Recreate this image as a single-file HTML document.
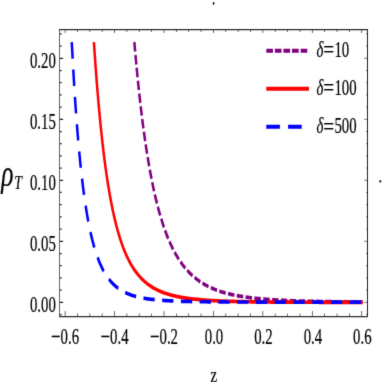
<!DOCTYPE html>
<html><head><meta charset="utf-8"><title>plot</title>
<style>
html,body{margin:0;padding:0;background:#fff;}
body{width:382px;height:382px;overflow:hidden;}
svg{display:block;}
text{font-family:"Liberation Serif",serif;font-size:14.8px;fill:#000;stroke:#000;stroke-width:0.15px;}
</style></head>
<body>
<svg width="382" height="382" viewBox="0 0 382 382">
<defs><filter id="sf" x="-5%" y="-5%" width="110%" height="110%" color-interpolation-filters="sRGB"><feConvolveMatrix order="3" kernelMatrix="0.0113 0.0838 0.0113 0.0838 0.6193 0.0838 0.0113 0.0838 0.0113" edgeMode="duplicate" preserveAlpha="true"/></filter></defs>
<g filter="url(#sf)">
<rect x="-5" y="-5" width="392" height="392" fill="#ffffff"/>
<g transform="scale(1,1.465)">
<path d="M134.35,28.74 L134.50,29.91 L134.70,31.48 L134.89,33.04 L135.09,34.58 L135.29,36.11 L135.48,37.62 L135.68,39.12 L135.88,40.60 L136.07,42.07 L136.27,43.52 L136.47,44.96 L136.66,46.38 L136.86,47.79 L137.06,49.19 L137.25,50.57 L137.45,51.94 L137.65,53.29 L137.85,54.63 L138.04,55.96 L138.24,57.28 L138.44,58.58 L138.63,59.87 L138.83,61.14 L139.03,62.40 L139.22,63.66 L139.42,64.89 L139.62,66.12 L139.81,67.34 L140.01,68.54 L140.21,69.73 L140.40,70.91 L140.60,72.08 L140.80,73.23 L140.99,74.38 L141.19,75.51 L141.39,76.64 L141.59,77.75 L141.78,78.85 L141.98,79.94 L142.18,81.02 L142.37,82.09 L142.57,83.15 L142.77,84.20 L142.96,85.24 L143.16,86.27 L143.36,87.29 L143.55,88.30 L143.75,89.30 L143.95,90.29 L144.14,91.27 L144.34,92.24 L144.54,93.20 L144.73,94.16 L144.93,95.10 L145.13,96.04 L145.33,96.96 L145.52,97.88 L145.72,98.79 L145.92,99.69 L146.11,100.58 L146.31,101.46 L146.51,102.34 L146.70,103.21 L146.90,104.06 L147.10,104.91 L147.29,105.76 L147.49,106.59 L147.69,107.42 L147.88,108.24 L148.08,109.05 L148.28,109.85 L148.47,110.65 L148.67,111.44 L148.87,112.22 L149.16,113.38 L149.46,114.52 L149.75,115.65 L150.05,116.76 L150.35,117.86 L150.64,118.94 L150.94,120.00 L151.23,121.05 L151.53,122.09 L151.82,123.11 L152.12,124.12 L152.41,125.12 L152.71,126.10 L153.00,127.07 L153.30,128.02 L153.59,128.96 L153.89,129.89 L154.18,130.81 L154.48,131.71 L154.77,132.60 L155.07,133.48 L155.36,134.35 L155.66,135.21 L155.96,136.05 L156.25,136.88 L156.55,137.71 L156.84,138.52 L157.14,139.32 L157.43,140.11 L157.73,140.89 L158.02,141.66 L158.32,142.42 L158.61,143.16 L159.01,144.15 L159.40,145.11 L159.79,146.06 L160.19,146.99 L160.58,147.91 L160.97,148.81 L161.37,149.70 L161.76,150.56 L162.16,151.42 L162.55,152.26 L162.94,153.08 L163.34,153.89 L163.73,154.69 L164.12,155.47 L164.52,156.24 L164.91,157.00 L165.31,157.74 L165.70,158.47 L166.09,159.19 L166.49,159.90 L166.98,160.77 L167.47,161.61 L167.96,162.45 L168.45,163.26 L168.95,164.05 L169.44,164.83 L169.93,165.60 L170.42,166.34 L170.92,167.08 L171.41,167.79 L171.90,168.50 L172.39,169.18 L172.88,169.86 L173.38,170.52 L173.87,171.16 L174.36,171.80 L174.95,172.54 L175.54,173.27 L176.13,173.97 L176.72,174.66 L177.31,175.34 L177.90,176.00 L178.49,176.64 L179.08,177.27 L179.67,177.88 L180.27,178.47 L180.86,179.06 L181.45,179.63 L182.04,180.18 L182.63,180.73 L183.32,181.34 L184.01,181.95 L184.69,182.53 L185.38,183.10 L186.07,183.65 L186.76,184.19 L187.45,184.72 L188.14,185.23 L188.83,185.72 L189.52,186.21 L190.21,186.68 L190.89,187.14 L191.58,187.58 L192.27,188.02 L192.96,188.44 L193.65,188.86 L194.44,189.31 L195.23,189.76 L196.01,190.19 L196.80,190.61 L197.59,191.02 L198.38,191.41 L199.16,191.80 L199.95,192.17 L200.74,192.53 L201.52,192.88 L202.31,193.22 L203.10,193.56 L203.89,193.88 L204.67,194.19 L205.46,194.50 L206.25,194.79 L207.04,195.08 L207.82,195.36 L208.61,195.63 L209.40,195.89 L210.19,196.15 L210.97,196.40 L211.76,196.64 L212.55,196.88 L213.34,197.11 L214.12,197.33 L214.91,197.55 L215.70,197.76 L216.48,197.97 L217.27,198.17 L218.06,198.36 L218.85,198.55 L219.63,198.74 L220.42,198.92 L221.21,199.09 L222.00,199.26 L222.78,199.43 L223.57,199.59 L224.36,199.75 L225.15,199.90 L225.93,200.05 L226.72,200.20 L227.51,200.34 L228.39,200.49 L229.28,200.64 L230.17,200.79 L231.05,200.93 L231.94,201.07 L232.82,201.20 L233.71,201.33 L234.59,201.46 L235.48,201.58 L236.37,201.70 L237.25,201.82 L238.14,201.93 L239.02,202.04 L239.91,202.15 L240.79,202.25 L241.68,202.35 L242.57,202.45 L243.45,202.55 L244.34,202.64 L245.22,202.73 L246.11,202.82 L247.00,202.90 L247.88,202.99 L248.77,203.07 L249.65,203.15 L250.54,203.22 L251.42,203.30 L252.31,203.37 L253.20,203.44 L254.08,203.51 L254.97,203.58 L255.85,203.64 L256.74,203.71 L257.63,203.77 L258.51,203.83 L259.40,203.89 L260.28,203.94 L261.17,204.00 L262.05,204.05 L262.94,204.11 L263.83,204.16 L264.71,204.21 L265.60,204.26 L266.48,204.31 L267.37,204.35 L268.25,204.40 L269.14,204.44 L270.03,204.49 L270.91,204.53 L271.80,204.57 L272.68,204.61 L273.57,204.65 L274.46,204.69 L275.34,204.72 L276.23,204.76 L277.11,204.79 L278.00,204.83 L278.88,204.86 L279.77,204.89 L280.66,204.93 L281.54,204.96 L282.43,204.99 L283.31,205.02 L284.20,205.05 L285.08,205.08 L285.97,205.10 L286.86,205.13 L287.74,205.16 L288.63,205.18 L289.51,205.21 L290.40,205.23 L291.29,205.26 L292.17,205.28 L293.06,205.30 L293.94,205.32 L294.83,205.35 L295.71,205.37 L296.60,205.39 L297.49,205.41 L298.37,205.43 L299.26,205.45 L300.14,205.47 L301.03,205.49 L301.92,205.50 L302.80,205.52 L303.69,205.54 L304.57,205.56 L305.46,205.57 L306.34,205.59 L307.23,205.60 L308.12,205.62 L309.00,205.64 L309.89,205.65 L310.77,205.66 L311.66,205.68 L312.54,205.69 L313.43,205.71 L314.32,205.72 L315.20,205.73 L316.09,205.74 L316.97,205.76 L317.86,205.77 L318.75,205.78 L319.63,205.79 L320.52,205.80 L321.40,205.82 L322.29,205.83 L323.17,205.84 L324.06,205.85 L324.95,205.86 L325.83,205.87 L326.72,205.88 L327.60,205.89 L328.49,205.90 L329.37,205.91 L330.26,205.91 L331.15,205.92 L332.03,205.93 L332.92,205.94 L333.80,205.95 L334.69,205.96 L335.58,205.96 L336.46,205.97 L337.35,205.98 L338.23,205.99 L339.12,205.99 L340.00,206.00 L340.89,206.01 L341.78,206.02 L342.66,206.02 L343.55,206.03 L344.43,206.04 L345.32,206.04 L346.21,206.05 L347.09,206.05 L347.98,206.06 L348.86,206.07 L349.75,206.07 L350.63,206.08 L351.52,206.08 L352.41,206.09 L353.29,206.09 L354.18,206.10 L355.06,206.10 L355.95,206.11 L356.83,206.11 L357.72,206.12 L358.61,206.12 L359.49,206.13 L360.38,206.13 L361.26,206.14 L362.15,206.14 L362.74,206.14" fill="none" stroke="#800080" stroke-width="2.5" stroke-dasharray="6.5 2.35"/>
<path d="M93.92,28.74 L94.05,30.10 L94.15,31.12 L94.24,32.13 L94.34,33.14 L94.44,34.14 L94.54,35.14 L94.64,36.12 L94.74,37.10 L94.83,38.08 L94.93,39.05 L95.03,40.01 L95.13,40.97 L95.23,41.92 L95.33,42.86 L95.43,43.80 L95.52,44.73 L95.62,45.65 L95.72,46.57 L95.82,47.49 L95.92,48.39 L96.02,49.30 L96.11,50.19 L96.21,51.08 L96.31,51.97 L96.41,52.84 L96.51,53.72 L96.61,54.58 L96.70,55.45 L96.80,56.30 L96.90,57.15 L97.00,58.00 L97.10,58.84 L97.20,59.67 L97.30,60.50 L97.39,61.33 L97.49,62.14 L97.59,62.96 L97.69,63.77 L97.79,64.57 L97.89,65.37 L98.08,66.95 L98.28,68.51 L98.48,70.05 L98.67,71.57 L98.87,73.07 L99.07,74.56 L99.26,76.02 L99.46,77.47 L99.66,78.89 L99.85,80.30 L100.05,81.70 L100.25,83.07 L100.44,84.43 L100.64,85.77 L100.84,87.10 L101.04,88.40 L101.23,89.70 L101.43,90.97 L101.63,92.23 L101.82,93.48 L102.02,94.71 L102.22,95.92 L102.41,97.12 L102.61,98.30 L102.81,99.47 L103.00,100.63 L103.20,101.77 L103.40,102.90 L103.59,104.01 L103.79,105.11 L103.99,106.20 L104.19,107.27 L104.38,108.33 L104.58,109.38 L104.78,110.41 L104.97,111.44 L105.17,112.45 L105.37,113.45 L105.56,114.43 L105.76,115.41 L105.96,116.37 L106.15,117.32 L106.35,118.26 L106.55,119.19 L106.74,120.11 L106.94,121.01 L107.14,121.91 L107.33,122.79 L107.53,123.67 L107.73,124.53 L107.93,125.39 L108.12,126.23 L108.32,127.07 L108.52,127.89 L108.71,128.70 L108.91,129.51 L109.11,130.31 L109.30,131.09 L109.50,131.87 L109.80,133.02 L110.09,134.15 L110.39,135.26 L110.68,136.35 L110.98,137.42 L111.27,138.47 L111.57,139.50 L111.86,140.52 L112.16,141.52 L112.45,142.50 L112.75,143.47 L113.04,144.42 L113.34,145.35 L113.63,146.27 L113.93,147.17 L114.22,148.05 L114.52,148.92 L114.81,149.78 L115.11,150.62 L115.41,151.45 L115.70,152.26 L116.00,153.06 L116.29,153.85 L116.59,154.62 L116.88,155.39 L117.18,156.13 L117.57,157.11 L117.96,158.07 L118.36,159.00 L118.75,159.92 L119.15,160.82 L119.54,161.69 L119.93,162.55 L120.33,163.39 L120.72,164.21 L121.11,165.01 L121.51,165.80 L121.90,166.56 L122.29,167.32 L122.69,168.05 L123.08,168.77 L123.48,169.48 L123.97,170.34 L124.46,171.18 L124.95,171.99 L125.44,172.79 L125.94,173.56 L126.43,174.32 L126.92,175.05 L127.41,175.77 L127.90,176.46 L128.40,177.14 L128.89,177.80 L129.38,178.45 L129.97,179.20 L130.56,179.93 L131.15,180.64 L131.74,181.32 L132.33,181.99 L132.92,182.63 L133.51,183.26 L134.11,183.87 L134.70,184.46 L135.29,185.03 L135.88,185.59 L136.57,186.21 L137.25,186.82 L137.94,187.40 L138.63,187.97 L139.32,188.52 L140.01,189.05 L140.70,189.56 L141.39,190.05 L142.08,190.53 L142.77,190.99 L143.46,191.44 L144.14,191.87 L144.83,192.29 L145.62,192.75 L146.41,193.19 L147.20,193.62 L147.98,194.04 L148.77,194.43 L149.56,194.82 L150.35,195.19 L151.13,195.54 L151.92,195.88 L152.71,196.22 L153.49,196.54 L154.28,196.84 L155.07,197.14 L155.86,197.43 L156.64,197.70 L157.43,197.97 L158.22,198.23 L159.01,198.48 L159.79,198.72 L160.58,198.95 L161.37,199.18 L162.16,199.39 L162.94,199.60 L163.73,199.81 L164.52,200.00 L165.31,200.19 L166.09,200.37 L166.88,200.55 L167.67,200.72 L168.45,200.89 L169.24,201.05 L170.03,201.20 L170.82,201.35 L171.60,201.50 L172.49,201.65 L173.38,201.81 L174.26,201.95 L175.15,202.09 L176.03,202.23 L176.92,202.36 L177.80,202.49 L178.69,202.61 L179.58,202.73 L180.46,202.84 L181.35,202.95 L182.23,203.06 L183.12,203.16 L184.01,203.26 L184.89,203.36 L185.78,203.45 L186.66,203.54 L187.55,203.62 L188.43,203.71 L189.32,203.79 L190.21,203.86 L191.09,203.94 L191.98,204.01 L192.86,204.08 L193.75,204.15 L194.63,204.22 L195.52,204.28 L196.41,204.34 L197.29,204.40 L198.18,204.46 L199.06,204.51 L199.95,204.57 L200.84,204.62 L201.72,204.67 L202.61,204.72 L203.49,204.77 L204.38,204.81 L205.26,204.86 L206.15,204.90 L207.04,204.94 L207.92,204.98 L208.81,205.02 L209.69,205.06 L210.58,205.10 L211.47,205.13 L212.35,205.17 L213.24,205.20 L214.12,205.24 L215.01,205.27 L215.89,205.30 L216.78,205.33 L217.67,205.36 L218.55,205.38 L219.44,205.41 L220.32,205.44 L221.21,205.46 L222.09,205.49 L222.98,205.51 L223.87,205.54 L224.75,205.56 L225.64,205.58 L226.52,205.60 L227.41,205.62 L228.30,205.64 L229.18,205.66 L230.07,205.68 L230.95,205.70 L231.84,205.72 L232.72,205.74 L233.61,205.75 L234.50,205.77 L235.38,205.79 L236.27,205.80 L237.15,205.82 L238.04,205.83 L238.92,205.85 L239.81,205.86 L240.70,205.88 L241.58,205.89 L242.47,205.90 L243.35,205.91 L244.24,205.93 L245.13,205.94 L246.01,205.95 L246.90,205.96 L247.78,205.97 L248.67,205.98 L249.55,205.99 L250.44,206.00 L251.33,206.01 L252.21,206.02 L253.10,206.03 L253.98,206.04 L254.87,206.05 L255.76,206.06 L256.64,206.07 L257.53,206.08 L258.41,206.08 L259.30,206.09 L260.18,206.10 L261.07,206.11 L261.96,206.11 L262.84,206.12 L263.73,206.13 L264.61,206.13 L265.50,206.14 L266.38,206.15 L267.27,206.15 L268.16,206.16 L269.04,206.16 L269.93,206.17 L270.81,206.18 L271.70,206.18 L272.59,206.19 L273.47,206.19 L274.36,206.20 L275.24,206.20 L276.13,206.21 L277.01,206.21 L277.90,206.22 L278.79,206.22 L279.67,206.23 L280.56,206.23 L281.44,206.23 L282.33,206.24 L283.21,206.24 L284.10,206.25 L284.99,206.25 L285.87,206.25 L286.76,206.26 L287.64,206.26 L288.53,206.26 L289.42,206.27 L290.30,206.27 L291.19,206.27 L292.07,206.28 L292.96,206.28 L293.84,206.28 L294.73,206.29 L295.62,206.29 L296.50,206.29 L297.39,206.29 L298.27,206.30 L299.16,206.30 L300.05,206.30 L300.93,206.30 L301.82,206.31 L302.70,206.31 L303.59,206.31 L304.47,206.31 L305.36,206.32 L306.25,206.32 L307.13,206.32 L308.02,206.32 L308.90,206.32 L309.79,206.33 L310.67,206.33 L311.56,206.33 L312.45,206.33 L313.33,206.33 L314.22,206.34 L315.10,206.34 L315.99,206.34 L316.88,206.34 L317.76,206.34 L318.65,206.34 L319.53,206.35 L320.42,206.35 L321.30,206.35 L322.19,206.35 L323.08,206.35 L323.96,206.35 L324.85,206.35 L325.73,206.36 L326.62,206.36 L327.50,206.36 L328.39,206.36 L329.28,206.36 L330.16,206.36 L331.05,206.36 L331.93,206.36 L332.82,206.37 L333.71,206.37 L334.59,206.37 L335.48,206.37 L336.36,206.37 L337.25,206.37 L338.13,206.37 L339.02,206.37 L339.91,206.37 L340.79,206.38 L341.68,206.38 L342.56,206.38 L343.45,206.38 L344.34,206.38 L345.22,206.38 L346.11,206.38 L346.99,206.38 L347.88,206.38 L348.76,206.38 L349.65,206.38 L350.54,206.38 L351.42,206.39 L352.31,206.39 L353.19,206.39 L354.08,206.39 L354.96,206.39 L355.85,206.39 L356.74,206.39 L357.62,206.39 L358.51,206.39 L359.39,206.39 L360.28,206.39 L361.17,206.39 L362.05,206.39 L362.74,206.39" fill="none" stroke="#ff0000" stroke-width="2.5"/>
<path d="M71.78,28.74 L71.90,30.33 L72.00,31.64 L72.10,32.94 L72.20,34.23 L72.30,35.51 L72.39,36.78 L72.49,38.04 L72.59,39.29 L72.69,40.53 L72.79,41.76 L72.89,42.97 L72.99,44.18 L73.08,45.38 L73.18,46.57 L73.28,47.74 L73.38,48.91 L73.48,50.07 L73.58,51.22 L73.67,52.36 L73.77,53.49 L73.87,54.61 L73.97,55.72 L74.07,56.82 L74.17,57.91 L74.26,59.00 L74.36,60.07 L74.46,61.14 L74.56,62.20 L74.66,63.24 L74.76,64.28 L74.86,65.32 L74.95,66.34 L75.05,67.35 L75.15,68.36 L75.25,69.36 L75.35,70.35 L75.45,71.33 L75.54,72.31 L75.64,73.27 L75.74,74.23 L75.84,75.18 L75.94,76.13 L76.04,77.06 L76.13,77.99 L76.23,78.91 L76.33,79.82 L76.43,80.73 L76.53,81.63 L76.63,82.52 L76.73,83.40 L76.82,84.28 L76.92,85.15 L77.02,86.01 L77.12,86.87 L77.22,87.72 L77.32,88.56 L77.41,89.39 L77.51,90.22 L77.61,91.05 L77.71,91.86 L77.81,92.67 L77.91,93.47 L78.00,94.27 L78.20,95.84 L78.40,97.39 L78.60,98.92 L78.79,100.42 L78.99,101.90 L79.19,103.35 L79.38,104.78 L79.58,106.19 L79.78,107.58 L79.97,108.94 L80.17,110.29 L80.37,111.61 L80.56,112.92 L80.76,114.20 L80.96,115.46 L81.15,116.71 L81.35,117.93 L81.55,119.14 L81.74,120.32 L81.94,121.49 L82.14,122.64 L82.34,123.78 L82.53,124.89 L82.73,125.99 L82.93,127.08 L83.12,128.14 L83.32,129.19 L83.52,130.23 L83.71,131.25 L83.91,132.25 L84.11,133.24 L84.30,134.21 L84.50,135.17 L84.70,136.11 L84.89,137.05 L85.09,137.96 L85.29,138.87 L85.48,139.75 L85.68,140.63 L85.88,141.49 L86.08,142.35 L86.27,143.18 L86.47,144.01 L86.67,144.82 L86.86,145.63 L87.06,146.42 L87.26,147.19 L87.55,148.34 L87.85,149.46 L88.14,150.56 L88.44,151.63 L88.73,152.68 L89.03,153.71 L89.32,154.72 L89.62,155.70 L89.91,156.66 L90.21,157.60 L90.50,158.53 L90.80,159.43 L91.09,160.31 L91.39,161.18 L91.69,162.02 L91.98,162.85 L92.28,163.66 L92.57,164.46 L92.87,165.23 L93.16,166.00 L93.46,166.74 L93.85,167.71 L94.24,168.65 L94.64,169.57 L95.03,170.46 L95.43,171.33 L95.82,172.18 L96.21,173.00 L96.61,173.80 L97.00,174.57 L97.39,175.33 L97.79,176.07 L98.18,176.78 L98.57,177.48 L99.07,178.33 L99.56,179.15 L100.05,179.94 L100.54,180.70 L101.04,181.44 L101.53,182.16 L102.02,182.85 L102.51,183.52 L103.00,184.17 L103.59,184.93 L104.19,185.65 L104.78,186.34 L105.37,187.01 L105.96,187.66 L106.55,188.28 L107.14,188.88 L107.73,189.45 L108.32,190.00 L109.01,190.62 L109.70,191.22 L110.39,191.78 L111.07,192.33 L111.76,192.85 L112.45,193.35 L113.14,193.83 L113.83,194.29 L114.52,194.73 L115.21,195.15 L116.00,195.61 L116.78,196.05 L117.57,196.47 L118.36,196.87 L119.15,197.25 L119.93,197.61 L120.72,197.96 L121.51,198.29 L122.29,198.61 L123.08,198.91 L123.87,199.20 L124.66,199.48 L125.44,199.74 L126.23,199.99 L127.02,200.24 L127.81,200.47 L128.59,200.69 L129.38,200.90 L130.17,201.10 L130.96,201.30 L131.74,201.48 L132.53,201.66 L133.32,201.83 L134.11,202.00 L134.89,202.15 L135.68,202.30 L136.47,202.45 L137.35,202.60 L138.24,202.75 L139.12,202.89 L140.01,203.03 L140.90,203.16 L141.78,203.28 L142.67,203.40 L143.55,203.51 L144.44,203.62 L145.33,203.72 L146.21,203.82 L147.10,203.91 L147.98,204.00 L148.87,204.09 L149.75,204.17 L150.64,204.25 L151.53,204.32 L152.41,204.39 L153.30,204.46 L154.18,204.53 L155.07,204.59 L155.96,204.65 L156.84,204.71 L157.73,204.77 L158.61,204.82 L159.50,204.87 L160.38,204.92 L161.27,204.97 L162.16,205.02 L163.04,205.06 L163.93,205.10 L164.81,205.14 L165.70,205.18 L166.58,205.22 L167.47,205.25 L168.36,205.29 L169.24,205.32 L170.13,205.35 L171.01,205.38 L171.90,205.41 L172.79,205.44 L173.67,205.47 L174.56,205.49 L175.44,205.52 L176.33,205.54 L177.21,205.56 L178.10,205.59 L178.99,205.61 L179.87,205.63 L180.76,205.65 L181.64,205.67 L182.53,205.69 L183.41,205.71 L184.30,205.72 L185.19,205.74 L186.07,205.75 L186.96,205.77 L187.84,205.79 L188.73,205.80 L189.62,205.81 L190.50,205.83 L191.39,205.84 L192.27,205.85 L193.16,205.86 L194.04,205.88 L194.93,205.89 L195.82,205.90 L196.70,205.91 L197.59,205.92 L198.47,205.93 L199.36,205.94 L200.25,205.95 L201.13,205.96 L202.02,205.96 L202.90,205.97 L203.79,205.98 L204.67,205.99 L205.56,205.99 L206.45,206.00 L207.33,206.01 L208.22,206.02 L209.10,206.02 L209.99,206.03 L210.87,206.03 L211.76,206.04 L212.65,206.05 L213.53,206.05 L214.42,206.06 L215.30,206.06 L216.19,206.07 L217.08,206.07 L217.96,206.08 L218.85,206.08 L219.73,206.09 L220.62,206.09 L221.50,206.09 L222.39,206.10 L223.28,206.10 L224.16,206.11 L225.05,206.11 L225.93,206.11 L226.82,206.12 L227.70,206.12 L228.59,206.12 L229.48,206.13 L230.36,206.13 L231.25,206.13 L232.13,206.13 L233.02,206.14 L233.91,206.14 L234.79,206.14 L235.68,206.15 L236.56,206.15 L237.45,206.15 L238.33,206.15 L239.22,206.15 L240.11,206.16 L240.99,206.16 L241.88,206.16 L242.76,206.16 L243.65,206.16 L244.54,206.17 L245.42,206.17 L246.31,206.17 L247.19,206.17 L248.08,206.17 L248.96,206.18 L249.85,206.18 L250.74,206.18 L251.62,206.18 L252.51,206.18 L253.39,206.18 L254.28,206.18 L255.16,206.19 L256.05,206.19 L256.94,206.19 L257.82,206.19 L258.71,206.19 L259.59,206.19 L260.48,206.19 L261.37,206.19 L262.25,206.20 L263.14,206.20 L264.02,206.20 L264.91,206.20 L265.79,206.20 L266.68,206.20 L267.57,206.20 L268.45,206.20 L269.34,206.20 L270.22,206.20 L271.11,206.20 L271.99,206.21 L272.88,206.21 L273.77,206.21 L274.65,206.21 L275.54,206.21 L276.42,206.21 L277.31,206.21 L278.20,206.21 L279.08,206.21 L279.97,206.21 L280.85,206.21 L281.74,206.21 L282.62,206.21 L283.51,206.21 L284.40,206.21 L285.28,206.22 L286.17,206.22 L287.05,206.22 L287.94,206.22 L288.82,206.22 L289.71,206.22 L290.60,206.22 L291.48,206.22 L292.37,206.22 L293.25,206.22 L294.14,206.22 L295.03,206.22 L295.91,206.22 L296.80,206.22 L297.68,206.22 L298.57,206.22 L299.45,206.22 L300.34,206.22 L301.23,206.22 L302.11,206.22 L303.00,206.22 L303.88,206.22 L304.77,206.22 L305.66,206.22 L306.54,206.22 L307.43,206.23 L308.31,206.23 L309.20,206.23 L310.08,206.23 L310.97,206.23 L311.86,206.23 L312.74,206.23 L313.63,206.23 L314.51,206.23 L315.40,206.23 L316.28,206.23 L317.17,206.23 L318.06,206.23 L318.94,206.23 L319.83,206.23 L320.71,206.23 L321.60,206.23 L322.49,206.23 L323.37,206.23 L324.26,206.23 L325.14,206.23 L326.03,206.23 L326.91,206.23 L327.80,206.23 L328.69,206.23 L329.57,206.23 L330.46,206.23 L331.34,206.23 L332.23,206.23 L333.11,206.23 L334.00,206.23 L334.89,206.23 L335.77,206.23 L336.66,206.23 L337.54,206.23 L338.43,206.23 L339.32,206.23 L340.20,206.23 L341.09,206.23 L341.97,206.23 L342.86,206.23 L343.74,206.23 L344.63,206.23 L345.52,206.23 L346.40,206.23 L347.29,206.23 L348.17,206.23 L349.06,206.23 L349.95,206.23 L350.83,206.23 L351.72,206.23 L352.60,206.23 L353.49,206.23 L354.37,206.23 L355.26,206.23 L356.15,206.23 L357.03,206.23 L357.92,206.23 L358.80,206.23 L359.69,206.23 L360.57,206.23 L361.46,206.23 L362.35,206.23 L362.74,206.24" fill="none" stroke="#0000ff" stroke-width="2.5" stroke-dasharray="11.3 7.45"/>

</g>
<g transform="scale(1,1.54)">
<path d="M266.3,32.99 H307.7" stroke="#800080" stroke-width="2.65" fill="none" stroke-dasharray="6.65 1.93"/>
<text x="316.4" y="37.01" font-style="italic">δ</text><text transform="translate(323.3,37.01) scale(1.3,1)">=</text><text x="334.4" y="37.01">10</text>
<path d="M266.3,57.66 H309.0" stroke="#ff0000" stroke-width="2.65" fill="none"/>
<text x="316.4" y="61.95" font-style="italic">δ</text><text transform="translate(323.3,61.95) scale(1.3,1)">=</text><text x="334.4" y="61.95">100</text>
<path d="M266.3,82.34 H308.5" stroke="#0000ff" stroke-width="2.65" fill="none" stroke-dasharray="13.6 8.2"/>
<text x="316.4" y="86.69" font-style="italic">δ</text><text transform="translate(323.3,86.69) scale(1.3,1)">=</text><text x="334.4" y="86.69">500</text>

<text x="55.8" y="202.49" text-anchor="end">0.00</text>
<text x="55.8" y="162.88" text-anchor="end">0.05</text>
<text x="55.8" y="123.27" text-anchor="end">0.10</text>
<text x="55.8" y="83.66" text-anchor="end">0.15</text>
<text x="55.8" y="44.05" text-anchor="end">0.20</text>
<text transform="translate(60.62,223.38) scale(1.15,1)" text-anchor="end">−</text><text x="60.62" y="223.38">0.6</text>
<text transform="translate(110.06,223.38) scale(1.15,1)" text-anchor="end">−</text><text x="110.06" y="223.38">0.4</text>
<text transform="translate(159.50,223.38) scale(1.15,1)" text-anchor="end">−</text><text x="159.50" y="223.38">0.2</text>
<text x="214.02" y="223.38" text-anchor="middle">0.0</text>
<text x="263.46" y="223.38" text-anchor="middle">0.2</text>
<text x="312.90" y="223.38" text-anchor="middle">0.4</text>
<text x="362.34" y="223.38" text-anchor="middle">0.6</text>
<text transform="translate(213.9,247.79) scale(1.1,1)" text-anchor="middle" style="font-size:13.4px">z</text>
<text transform="translate(1.3,120.58) scale(1.06,1)" style="font-style:italic;font-size:24.1px">ρ</text>
<text transform="translate(14.2,122.99) scale(1.13,1)" style="font-style:italic;font-size:12.2px">T</text>

</g>
<g transform="scale(1,1.47)" fill="none">
<path d="M65.10,215.31 v-3.7 M77.46,215.31 v-2.0 M89.82,215.31 v-2.0 M102.18,215.31 v-2.0 M114.54,215.31 v-3.7 M126.90,215.31 v-2.0 M139.26,215.31 v-2.0 M151.62,215.31 v-2.0 M163.98,215.31 v-3.7 M176.34,215.31 v-2.0 M188.70,215.31 v-2.0 M201.06,215.31 v-2.0 M213.42,215.31 v-3.7 M225.78,215.31 v-2.0 M238.14,215.31 v-2.0 M250.50,215.31 v-2.0 M262.86,215.31 v-3.7 M275.22,215.31 v-2.0 M287.58,215.31 v-2.0 M299.94,215.31 v-2.0 M312.30,215.31 v-3.7 M324.66,215.31 v-2.0 M337.02,215.31 v-2.0 M349.38,215.31 v-2.0 M361.74,215.31 v-3.7 " stroke="#333" stroke-width="0.7"/>
<path d="M65.10,20.07 v2.4 M77.46,20.07 v1.7 M89.82,20.07 v1.7 M102.18,20.07 v1.7 M114.54,20.07 v2.4 M126.90,20.07 v1.7 M139.26,20.07 v1.7 M151.62,20.07 v1.7 M163.98,20.07 v2.4 M176.34,20.07 v1.7 M188.70,20.07 v1.7 M201.06,20.07 v1.7 M213.42,20.07 v2.4 M225.78,20.07 v1.7 M238.14,20.07 v1.7 M250.50,20.07 v1.7 M262.86,20.07 v2.4 M275.22,20.07 v1.7 M287.58,20.07 v1.7 M299.94,20.07 v1.7 M312.30,20.07 v2.4 M324.66,20.07 v1.7 M337.02,20.07 v1.7 M349.38,20.07 v1.7 M361.74,20.07 v2.4 " stroke="#3a3a3a" stroke-width="0.75"/>
<path d="M59.55,213.95 h2.1 M59.55,205.65 h3.6 M59.55,197.35 h2.1 M59.55,189.05 h2.1 M59.55,180.75 h2.1 M59.55,172.45 h2.1 M59.55,164.15 h3.6 M59.55,155.85 h2.1 M59.55,147.55 h2.1 M59.55,139.25 h2.1 M59.55,130.95 h2.1 M59.55,122.65 h3.6 M59.55,114.35 h2.1 M59.55,106.05 h2.1 M59.55,97.76 h2.1 M59.55,89.46 h2.1 M59.55,81.16 h3.6 M59.55,72.86 h2.1 M59.55,64.56 h2.1 M59.55,56.26 h2.1 M59.55,47.96 h2.1 M59.55,39.66 h3.6 M59.55,31.36 h2.1 M59.55,23.06 h2.1 " stroke="#222" stroke-width="0.85"/>
<path d="M367.5,213.95 h-1.5 M367.5,205.65 h-3.3 M367.5,197.35 h-1.5 M367.5,189.05 h-1.5 M367.5,180.75 h-1.5 M367.5,172.45 h-1.5 M367.5,164.15 h-3.3 M367.5,155.85 h-1.5 M367.5,147.55 h-1.5 M367.5,139.25 h-1.5 M367.5,130.95 h-1.5 M367.5,122.65 h-3.3 M367.5,114.35 h-1.5 M367.5,106.05 h-1.5 M367.5,97.76 h-1.5 M367.5,89.46 h-1.5 M367.5,81.16 h-3.3 M367.5,72.86 h-1.5 M367.5,64.56 h-1.5 M367.5,56.26 h-1.5 M367.5,47.96 h-1.5 M367.5,39.66 h-3.3 M367.5,31.36 h-1.5 M367.5,23.06 h-1.5 " stroke="#444" stroke-width="0.6"/>
<path d="M59.55,19.65 V215.73" stroke="#555" stroke-width="0.9"/>
<path d="M367.5,19.65 V215.73" stroke="#222" stroke-width="1.0"/>
<path d="M59.099999999999994,20.07 H368.0 M59.099999999999994,215.31 H368.0" stroke="#2b2b2b" stroke-width="0.85"/>
</g>
<ellipse cx="213.6" cy="3.4" rx="0.9" ry="1.4" fill="#111"/>
<ellipse cx="380.3" cy="181.3" rx="0.9" ry="1.4" fill="#111"/>
</g>
</svg>
</body></html>
